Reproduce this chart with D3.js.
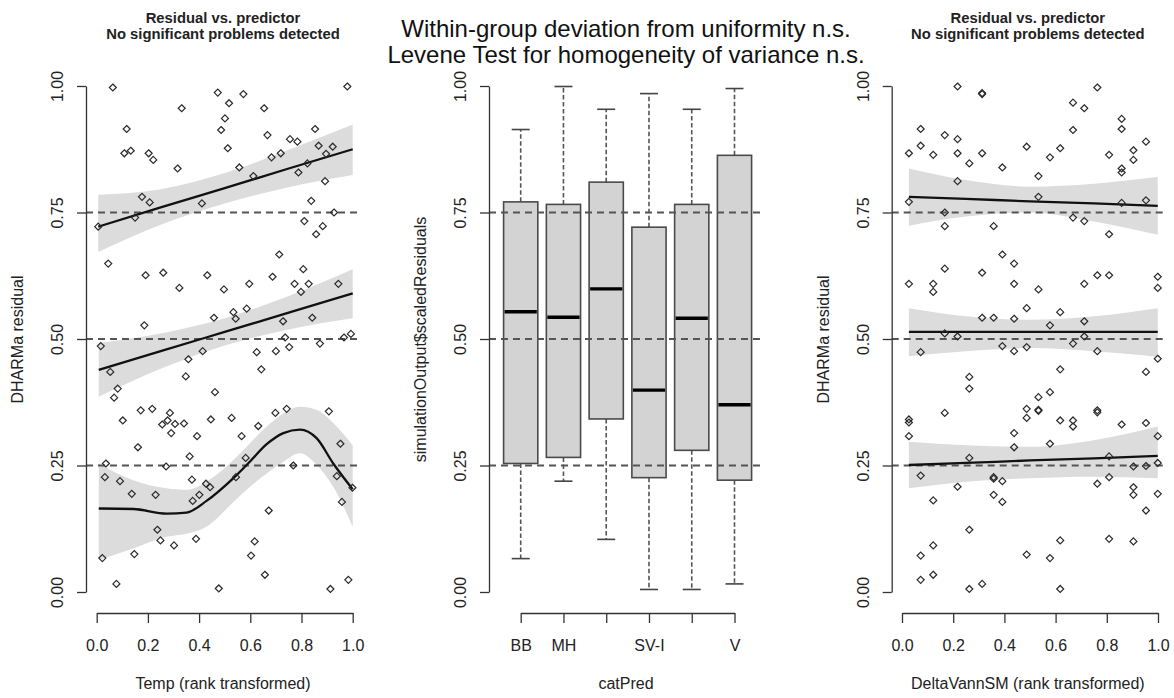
<!DOCTYPE html>
<html><head><meta charset="utf-8">
<script src="https://cdn.jsdelivr.net/npm/d3@7"></script>
<style>body{margin:0;background:#fff;} svg{display:block;}</style>
</head><body>
<svg id="c" width="1174" height="698"></svg>
<script>
// ---------------- DATA ----------------
const yTicks = [0, 0.25, 0.5, 0.75, 1];
const xTicks = [0, 0.2, 0.4, 0.6, 0.8, 1.0];
const refLines = [0.25, 0.5, 0.75];

// Left panel: DHARMa residual vs Temp (rank transformed)
const tempPoints = [
[0.063,0.997],[0.332,0.956],[0.473,0.987],[0.517,0.966],[0.501,0.936],[0.573,0.984],[0.654,0.956],[0.486,0.913],
[0.117,0.915],[0.667,0.903],[0.979,0.999],[0.755,0.895],[0.784,0.890],[0.853,0.915],[0.867,0.882],[0.922,0.880],
[0.512,0.877],[0.108,0.867],[0.133,0.872],[0.203,0.867],[0.221,0.854],[0.683,0.859],[0.719,0.867],[0.896,0.866],
[0.823,0.847],[0.316,0.837],[0.557,0.839],[0.612,0.822],[0.788,0.829],[0.892,0.812],[0.177,0.781],[0.207,0.770],
[0.411,0.768],[0.838,0.773],[0.150,0.740],[0.927,0.750],[0.006,0.722],[0.811,0.733],[0.883,0.723],[0.857,0.707],
[0.045,0.649],[0.713,0.667],[0.191,0.626],[0.260,0.631],[0.432,0.626],[0.323,0.601],[0.497,0.598],[0.596,0.609],
[0.687,0.623],[0.807,0.638],[0.773,0.609],[0.828,0.609],[0.798,0.593],[0.944,0.609],[0.186,0.527],[0.458,0.542],
[0.534,0.553],[0.543,0.540],[0.586,0.560],[0.728,0.535],[0.842,0.542],
[0.016,0.486],[0.053,0.435],[0.358,0.460],[0.414,0.476],[0.625,0.474],[0.643,0.440],[0.700,0.476],[0.736,0.503],
[0.752,0.484],[0.872,0.491],[0.966,0.503],[0.993,0.510],[0.348,0.426],[0.462,0.395],[0.082,0.402],[0.068,0.384],
[0.172,0.359],[0.217,0.362],[0.286,0.354],[0.102,0.339],[0.256,0.331],[0.277,0.339],[0.306,0.332],[0.341,0.333],
[0.446,0.341],[0.527,0.344],[0.291,0.314],[0.392,0.308],[0.631,0.328],[0.566,0.308],[0.698,0.354],[0.742,0.362],
[0.907,0.357],[0.161,0.286],[0.363,0.268],[0.952,0.293],[0.582,0.265],[0.036,0.254],[0.271,0.248],[0.768,0.250],
[0.032,0.227],[0.091,0.219],[0.372,0.222],[0.427,0.214],[0.443,0.207],[0.544,0.227],[0.938,0.229],[0.137,0.194],
[0.230,0.192],[0.401,0.192],[0.375,0.180],[0.958,0.178],[0.999,0.206],[0.672,0.161],[0.237,0.123],[0.249,0.102],
[0.302,0.092],[0.388,0.105],[0.617,0.100],[0.603,0.072],[0.022,0.067],[0.147,0.075],[0.077,0.016],[0.477,0.007],
[0.657,0.034],[0.913,0.006],[0.983,0.024]
];
// quantile fits: knots, fit, lower, upper
const tempQ75Knots = [0.006, 0.25, 0.5, 0.75, 1.0];
const tempQ75Fit   = [0.722, 0.760, 0.798, 0.837, 0.875];
const tempQ75Lo    = [0.672, 0.726, 0.768, 0.800, 0.824];
const tempQ75Hi    = [0.785, 0.796, 0.828, 0.874, 0.924];
const tempQ50Knots = [0.008, 0.25, 0.5, 0.75, 1.0];
const tempQ50Fit   = [0.439, 0.476, 0.514, 0.552, 0.590];
const tempQ50Lo    = [0.386, 0.441, 0.487, 0.519, 0.541];
const tempQ50Hi    = [0.492, 0.511, 0.541, 0.585, 0.638];
const tempQ25Knots = [0.008, 0.143, 0.273, 0.351, 0.429, 0.534, 0.599, 0.664, 0.729, 0.794, 0.859, 0.924, 1.0];
const tempQ25Fit   = [0.165, 0.164, 0.155, 0.157, 0.180, 0.225, 0.258, 0.292, 0.314, 0.321, 0.304, 0.254, 0.203];
const tempQ25Lo    = [0.063, 0.086, 0.109, 0.115, 0.129, 0.178, 0.208, 0.234, 0.257, 0.274, 0.251, 0.208, 0.129];
const tempQ25Hi    = [0.254, 0.221, 0.205, 0.202, 0.218, 0.261, 0.294, 0.327, 0.353, 0.366, 0.360, 0.334, 0.290];

// Middle panel: boxplots by catPred
const catLabels   = ["BB", "MH", "", "SV-I", "", "V"];
const boxLowWhisk = [0.066, 0.219, 0.104, 0.005, 0.005, 0.016];
const boxQ1       = [0.254, 0.266, 0.342, 0.226, 0.280, 0.221];
const boxMedian   = [0.554, 0.543, 0.599, 0.399, 0.541, 0.370];
const boxQ3       = [0.771, 0.766, 0.810, 0.721, 0.766, 0.863];
const boxHighWhisk= [0.914, 0.999, 0.954, 0.985, 0.954, 0.995];

// Right panel: DHARMa residual vs DeltaVannSM (rank transformed)
const dvPoints = [
[0.217,0.999],[0.313,0.986],[0.313,0.984],[0.763,0.997],[0.668,0.967],[0.712,0.956],[0.073,0.915],[0.167,0.903],
[0.217,0.895],[0.668,0.913],[0.858,0.935],[0.858,0.915],[0.953,0.890],[0.027,0.867],[0.073,0.882],[0.122,0.864],
[0.217,0.867],[0.313,0.867],[0.263,0.847],[0.392,0.839],[0.487,0.880],[0.578,0.859],[0.618,0.877],[0.809,0.864],
[0.904,0.873],[0.904,0.854],[0.858,0.837],[0.858,0.829],[0.533,0.822],[0.217,0.812],[0.533,0.781],[0.027,0.771],
[0.167,0.750],[0.858,0.769],[0.953,0.774],[0.668,0.740],[0.712,0.733],[0.167,0.723],[0.358,0.723],[0.809,0.707],
[0.392,0.667],[0.438,0.649],[0.167,0.639],[0.313,0.631],[0.763,0.626],[0.809,0.626],[0.999,0.623],[0.027,0.609],
[0.122,0.609],[0.122,0.593],[0.438,0.609],[0.712,0.609],[0.999,0.601],[0.533,0.598],[0.487,0.561],[0.618,0.553],
[0.313,0.542],[0.358,0.542],[0.438,0.540],[0.712,0.535],[0.578,0.527],
[0.167,0.511],[0.217,0.505],[0.712,0.505],[0.073,0.474],[0.392,0.486],[0.438,0.476],[0.487,0.484],[0.668,0.491],
[0.763,0.476],[0.999,0.461],[0.618,0.440],[0.953,0.435],[0.263,0.425],[0.263,0.402],[0.578,0.395],[0.533,0.385],
[0.167,0.354],[0.487,0.362],[0.487,0.344],[0.533,0.360],[0.533,0.358],[0.763,0.359],[0.763,0.355],[0.027,0.341],
[0.027,0.335],[0.027,0.308],[0.438,0.314],[0.438,0.286],[0.618,0.339],[0.668,0.339],[0.668,0.327],[0.858,0.331],
[0.953,0.334],[0.578,0.293],[0.999,0.308],[0.263,0.265],[0.809,0.268],[0.073,0.230],[0.358,0.227],[0.358,0.224],
[0.392,0.219],[0.904,0.248],[0.953,0.249],[0.999,0.255],[0.217,0.208],[0.358,0.192],[0.392,0.178],[0.122,0.181],
[0.763,0.214],[0.809,0.227],[0.904,0.207],[0.904,0.192],[0.999,0.194],[0.953,0.161],[0.263,0.123],[0.618,0.102],
[0.809,0.105],[0.904,0.100],[0.122,0.092],[0.073,0.072],[0.487,0.074],[0.578,0.067],[0.073,0.024],[0.122,0.034],
[0.263,0.006],[0.313,0.016],[0.618,0.006]
];
const dvQ75Knots = [0.027, 0.25, 0.5, 0.75, 0.999];
const dvQ75Fit   = [0.781, 0.777, 0.772, 0.768, 0.763];
const dvQ75Lo    = [0.724, 0.742, 0.750, 0.732, 0.706];
const dvQ75Hi    = [0.837, 0.814, 0.801, 0.807, 0.820];
const dvQ50Knots = [0.027, 0.25, 0.5, 0.75, 0.999];
const dvQ50Fit   = [0.514, 0.514, 0.514, 0.514, 0.514];
const dvQ50Lo    = [0.466, 0.476, 0.482, 0.476, 0.465];
const dvQ50Hi    = [0.561, 0.545, 0.538, 0.545, 0.561];
const dvQ25Knots = [0.027, 0.25, 0.5, 0.75, 0.999];
const dvQ25Fit   = [0.251, 0.255, 0.260, 0.264, 0.269];
const dvQ25Lo    = [0.205, 0.218, 0.225, 0.228, 0.225];
const dvQ25Hi    = [0.297, 0.290, 0.287, 0.300, 0.327];

// ---------------- DRAWING ----------------
const FONT = '"Liberation Sans", Arial, Helvetica, sans-serif';
const svg = d3.select("#c");
svg.append("rect").attr("width", 1174).attr("height", 698).attr("fill", "#fff");

const regionTop = 66, regionBottom = 613;
const y = d3.scaleLinear().domain([0, 1]).range([592, 86]);

function styleAxis(g) {
  g.attr("font-size", 16).attr("font-family", FONT);
  g.select(".domain").attr("stroke", "#333").attr("stroke-width", 1.3);
  g.selectAll(".tick line").attr("stroke", "#333").attr("stroke-width", 1.3);
  g.selectAll(".tick text").attr("fill", "#222");
}

function leftAxis(ax, label) {
  const g = svg.append("g").attr("transform", `translate(${ax},0)`)
    .call(d3.axisLeft(y).tickValues(yTicks).tickFormat(d3.format(".2f")).tickSize(9).tickSizeOuter(0));
  styleAxis(g);
  g.selectAll(".tick text").attr("x", null).attr("dy", null)
    .attr("text-anchor", "middle").attr("transform", "translate(-22.7,0) rotate(-90)");
  svg.append("text")
    .attr("transform", `translate(${ax - 63},${(regionTop + regionBottom) / 2}) rotate(-90)`)
    .attr("text-anchor", "middle").attr("font-family", FONT).attr("font-size", 16).attr("fill", "#222")
    .text(label);
}

function bottomAxis(xs, ticks, fmt, label, cx) {
  const g = svg.append("g").attr("transform", `translate(0,${regionBottom})`)
    .call(d3.axisBottom(xs).tickValues(ticks).tickFormat(fmt).tickSize(10).tickSizeOuter(0));
  styleAxis(g);
  g.selectAll(".tick text").attr("y", 37.7).attr("dy", null);
  svg.append("text").attr("x", cx).attr("y", 689).attr("text-anchor", "middle")
    .attr("font-family", FONT).attr("font-size", 16).attr("fill", "#222").text(label);
}

function refDashes(x0, x1) {
  svg.append("g").selectAll("line").data(refLines).join("line")
    .attr("x1", x0).attr("x2", x1).attr("y1", d => y(d)).attr("y2", d => y(d))
    .attr("stroke", "#555").attr("stroke-width", 1.8).attr("stroke-dasharray", "7,5");
}

function smallTitle(cx) {
  const t = svg.append("g").attr("font-family", FONT).attr("font-size", 14.8)
    .attr("font-weight", "bold").attr("fill", "#222").attr("text-anchor", "middle");
  t.append("text").attr("x", cx).attr("y", 22.5).text("Residual vs. predictor");
  t.append("text").attr("x", cx).attr("y", 39).text("No significant problems detected");
}

function quantileRows(knots, fit, lo, hi) {
  return knots.map((k, i) => ({ k, f: fit[i], l: lo[i], h: hi[i] }));
}

function scatterPanel(ax, xs, regionRight, points, quantiles, xLabel) {
  const cx = (ax + regionRight) / 2;
  quantiles.forEach(q => {
    svg.append("path").datum(quantileRows(...q))
      .attr("d", d3.area().x(d => xs(d.k)).y0(d => y(d.l)).y1(d => y(d.h)).curve(d3.curveMonotoneX))
      .attr("fill", "#dcdcdc");
  });
  refDashes(ax, regionRight);
  quantiles.forEach(q => {
    svg.append("path").datum(quantileRows(...q))
      .attr("d", d3.line().x(d => xs(d.k)).y(d => y(d.f)).curve(d3.curveMonotoneX))
      .attr("fill", "none").attr("stroke", "#111").attr("stroke-width", 2.3);
  });
  const r = 3.5;
  svg.append("g").selectAll("path").data(points).join("path")
    .attr("transform", d => `translate(${xs(d[0])},${y(d[1])})`)
    .attr("d", `M0,${-r}L${r},0L0,${r}L${-r},0Z`)
    .attr("fill", "none").attr("stroke", "#2a2a2a").attr("stroke-width", 1.2);
  leftAxis(ax, "DHARMa residual");
  bottomAxis(xs, xTicks, d3.format(".1f"), xLabel, cx);
  smallTitle(cx);
}

// Left panel
const xLeft = d3.scaleLinear().domain([0, 1]).range([96.7, 352.7]);
scatterPanel(86, xLeft, 360, tempPoints, [
  [tempQ75Knots, tempQ75Fit, tempQ75Lo, tempQ75Hi],
  [tempQ50Knots, tempQ50Fit, tempQ50Lo, tempQ50Hi],
  [tempQ25Knots, tempQ25Fit, tempQ25Lo, tempQ25Hi]
], "Temp (rank transformed)");

// Right panel
const xRight = d3.scaleLinear().domain([0, 1]).range([902, 1158]);
scatterPanel(891.7, xRight, 1164, dvPoints, [
  [dvQ75Knots, dvQ75Fit, dvQ75Lo, dvQ75Hi],
  [dvQ50Knots, dvQ50Fit, dvQ50Lo, dvQ50Hi],
  [dvQ25Knots, dvQ25Fit, dvQ25Lo, dvQ25Hi]
], "DeltaVannSM (rank transformed)");

// Middle panel (boxplots)
const midAx = 489, midRight = 763;
const xMid = d3.scaleLinear().domain([1, 6]).range([520.7, 734.5]);
const idx = catLabels.map((_, i) => i + 1);
const boxW = 0.8 * (xMid(2) - xMid(1));
const capW = 18;
const boxes = idx.map(i => ({ i, lw: boxLowWhisk[i-1], q1: boxQ1[i-1], med: boxMedian[i-1], q3: boxQ3[i-1], hw: boxHighWhisk[i-1] }));
const bg = svg.append("g");
[["q3", "hw"], ["q1", "lw"]].forEach(([a, b]) => {
  bg.append("g").selectAll("line").data(boxes).join("line")
    .attr("x1", d => xMid(d.i)).attr("x2", d => xMid(d.i)).attr("y1", d => y(d[a])).attr("y2", d => y(d[b]))
    .attr("stroke", "#555").attr("stroke-width", 1.6).attr("stroke-dasharray", "4.5,2.5");
});
["hw", "lw"].forEach(k => {
  bg.append("g").selectAll("line").data(boxes).join("line")
    .attr("x1", d => xMid(d.i) - capW / 2).attr("x2", d => xMid(d.i) + capW / 2)
    .attr("y1", d => y(d[k])).attr("y2", d => y(d[k]))
    .attr("stroke", "#444").attr("stroke-width", 1.6);
});
bg.append("g").selectAll("rect").data(boxes).join("rect")
  .attr("x", d => xMid(d.i) - boxW / 2).attr("width", boxW)
  .attr("y", d => y(d.q3)).attr("height", d => y(d.q1) - y(d.q3))
  .attr("fill", "#d3d3d3").attr("stroke", "#4a4a4a").attr("stroke-width", 1.6);
refDashes(midAx, midRight);
bg.append("g").selectAll("line").data(boxes).join("line")
  .attr("x1", d => xMid(d.i) - boxW / 2 + 1).attr("x2", d => xMid(d.i) + boxW / 2 - 1)
  .attr("y1", d => y(d.med)).attr("y2", d => y(d.med))
  .attr("stroke", "#000").attr("stroke-width", 3.4);
leftAxis(midAx, "simulationOutput$scaledResiduals");
bottomAxis(xMid, idx, i => catLabels[i - 1], "catPred", (midAx + midRight) / 2);

// Main middle title
const mt = svg.append("g").attr("font-family", FONT).attr("font-size", 24)
  .attr("fill", "#111").attr("text-anchor", "middle");
mt.append("text").attr("x", 626).attr("y", 37).text("Within-group deviation from uniformity n.s.");
mt.append("text").attr("x", 626).attr("y", 63).text("Levene Test for homogeneity of variance n.s.");
</script>
</body></html>
